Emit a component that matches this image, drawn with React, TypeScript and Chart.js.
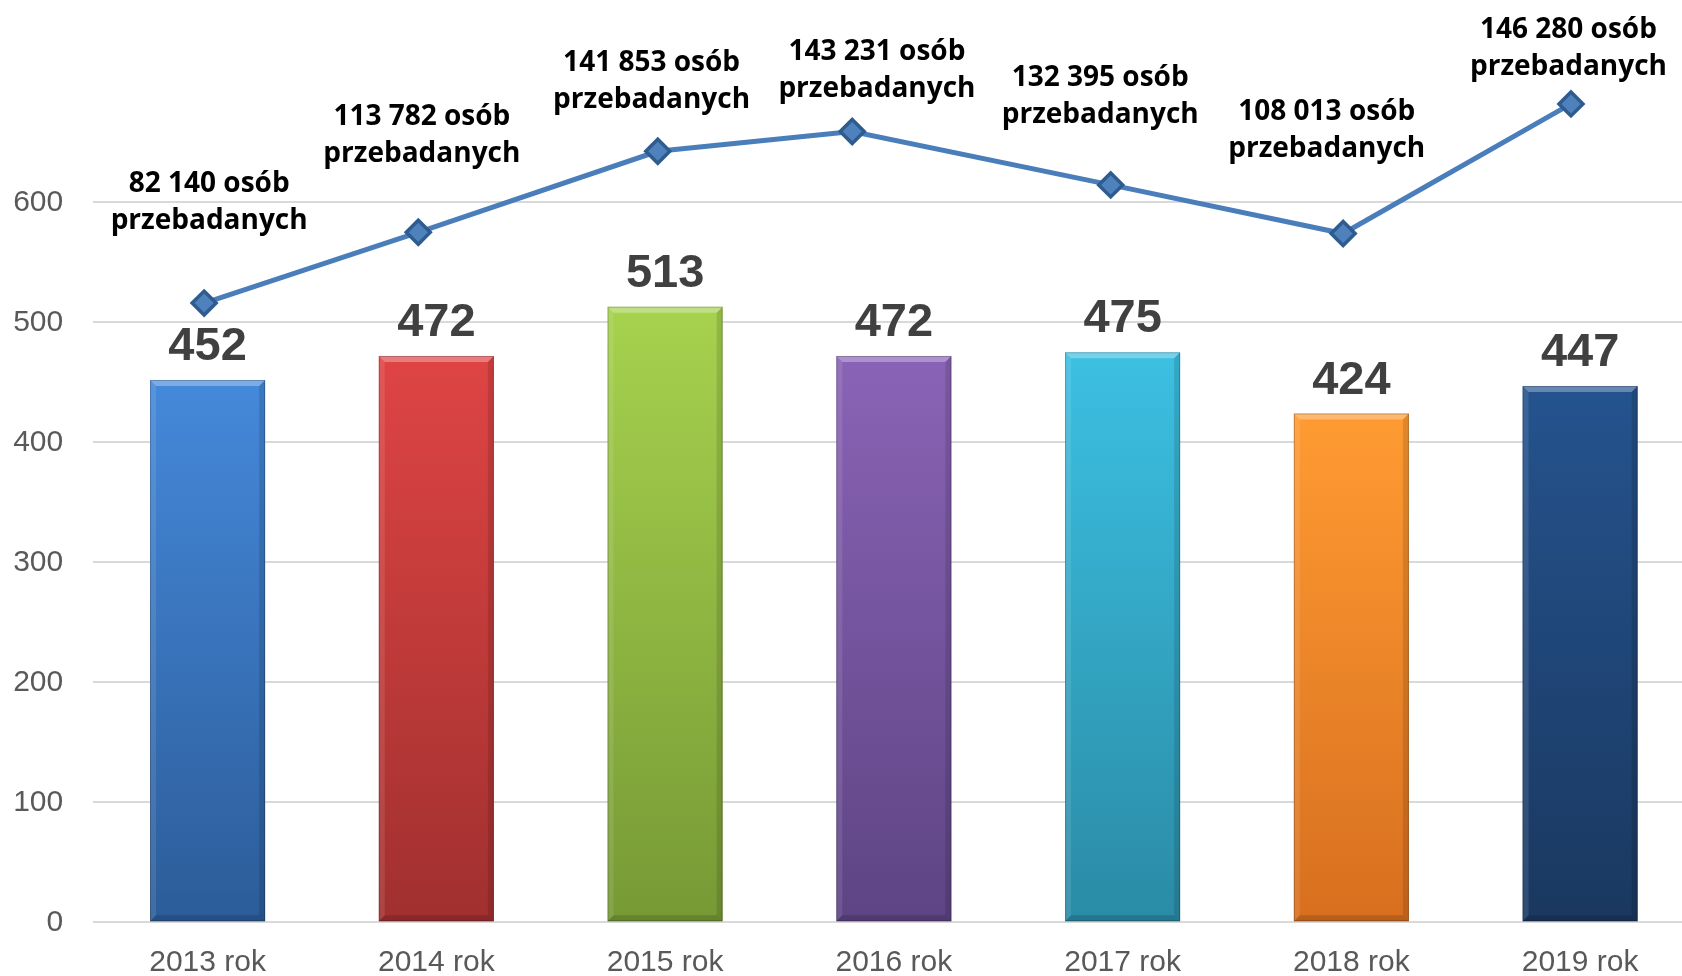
import React, { useEffect, useRef } from 'react';
import { Chart, registerables } from 'chart.js';

Chart.register(...registerables);

// ---- data ----
const categories = ['2013 rok', '2014 rok', '2015 rok', '2016 rok', '2017 rok', '2018 rok', '2019 rok'];
const barValues = [452, 472, 513, 472, 475, 424, 447];
const surveyed = [82140, 113782, 141853, 143231, 132395, 108013, 146280];
// line series (drawn on its own hidden scales, positions)
const lineX = [-0.015, 0.921, 1.968, 2.818, 3.948, 4.964, 5.96];
const lineLevels = [516, 575, 642.5, 659, 614.5, 574, 682];
const yTickMax = 600;
const yAxisMax = 700;
const yStep = 100;

// ---- styles ----
const barTopColors = ['#4589DA', '#DF4444', '#A6D24E', '#8A63B6', '#3CC0E2', '#FF9B32', '#25538E'];
const barBottomColors = ['#2C5C99', '#A0302F', '#779935', '#5D4483', '#2A8BA5', '#D76F1F', '#1A3860'];
const labelOffsets: [number, number][] = [
  [5, -111.6],
  [3.6, -107.6],
  [-6.2, -80.1],
  [24.7, -71.5],
  [-10.5, -98.7],
  [-16.4, -113.4],
  [-2.5, -66],
];

const fmt = (n: number) => String(n).replace(/\B(?=(\d{3})+(?!\d))/g, ' ');

const bevelPlugin = {
  id: 'bevel',
  afterDatasetDraw(chart: any, args: any) {
    if (args.index !== 0) return;
    const ctx = chart.ctx;
    args.meta.data.forEach((bar: any) => {
      const { x, y, base, width } = bar.getProps(['x', 'y', 'base', 'width'], true);
      const l = x - width / 2;
      const r = x + width / 2;
      const b = 6;
      ctx.save();
      ctx.fillStyle = 'rgba(255,255,255,0.30)';
      ctx.beginPath();
      ctx.moveTo(l, y);
      ctx.lineTo(r, y);
      ctx.lineTo(r - b, y + b);
      ctx.lineTo(l + b, y + b);
      ctx.closePath();
      ctx.fill();
      ctx.fillStyle = 'rgba(255,255,255,0.10)';
      ctx.beginPath();
      ctx.moveTo(l, y);
      ctx.lineTo(l + b, y + b);
      ctx.lineTo(l + b, base - b);
      ctx.lineTo(l, base);
      ctx.closePath();
      ctx.fill();
      ctx.fillStyle = 'rgba(0,0,0,0.12)';
      ctx.beginPath();
      ctx.moveTo(r, y);
      ctx.lineTo(r - b, y + b);
      ctx.lineTo(r - b, base - b);
      ctx.lineTo(r, base);
      ctx.closePath();
      ctx.fill();
      ctx.fillStyle = 'rgba(0,0,0,0.15)';
      ctx.beginPath();
      ctx.moveTo(l, base);
      ctx.lineTo(r, base);
      ctx.lineTo(r - b, base - b);
      ctx.lineTo(l + b, base - b);
      ctx.closePath();
      ctx.fill();
      ctx.strokeStyle = 'rgba(0,0,0,0.22)';
      ctx.lineWidth = 1;
      ctx.strokeRect(l + 0.5, y + 0.5, width - 1, base - y - 1);
      ctx.restore();
    });
  },
};

const labelsPlugin = {
  id: 'labels',
  afterDraw(chart: any) {
    const ctx = chart.ctx;
    ctx.save();
    const barMeta = chart.getDatasetMeta(0);
    ctx.font = 'bold 47px "Liberation Sans", Arial, sans-serif';
    ctx.fillStyle = '#404040';
    ctx.textAlign = 'center';
    ctx.textBaseline = 'alphabetic';
    barMeta.data.forEach((bar: any, i: number) => {
      ctx.fillText(String(barValues[i]), bar.x, bar.y - 20);
    });
    const lineMeta = chart.getDatasetMeta(1);
    ctx.font = 'bold 28px "Open Sans", "Noto Sans", sans-serif';
    ctx.fillStyle = '#000000';
    lineMeta.data.forEach((pt: any, i: number) => {
      const [dx, dy] = labelOffsets[i];
      const cx = pt.x + dx;
      const b1 = pt.y + dy;
      ctx.fillText(`${fmt(surveyed[i])} osób`, cx, b1);
      ctx.fillText('przebadanych', cx, b1 + 37);
    });
    ctx.restore();
  },
};

export default function App() {
  const canvasRef = useRef<HTMLCanvasElement | null>(null);

  useEffect(() => {
    document.body.style.margin = '0';
    const canvas = canvasRef.current;
    if (!canvas) return;
    const chart = new Chart(canvas, {
      type: 'bar',
      data: {
        labels: categories,
        datasets: [
          {
            type: 'bar',
            data: barValues,
            order: 1,
            grouped: false,
            categoryPercentage: 1,
            barPercentage: 0.503,
            backgroundColor: (c: any) => {
              if (c.type !== 'data') return barTopColors[0];
              const chartRef = c.chart;
              const i = c.dataIndex;
              if (!chartRef.chartArea) return barTopColors[i];
              const ys = chartRef.scales.y;
              const top = ys.getPixelForValue(barValues[i]);
              const bottom = ys.getPixelForValue(0);
              const g = chartRef.ctx.createLinearGradient(0, top, 0, bottom);
              g.addColorStop(0, barTopColors[i]);
              g.addColorStop(1, barBottomColors[i]);
              return g;
            },
            borderWidth: 0,
          } as any,
          {
            type: 'line',
            data: lineX.map((x, i) => ({ x, y: lineLevels[i] })),
            xAxisID: 'xLine',
            yAxisID: 'yLine',
            order: 0,
            borderColor: '#4A7EBB',
            borderWidth: 5,
            tension: 0,
            pointStyle: 'rectRot',
            pointRadius: 12,
            pointBackgroundColor: '#4F81BD',
            pointBorderColor: '#2F5C8F',
            pointBorderWidth: 3.5,
            fill: false,
          } as any,
        ],
      },
      options: {
        animation: false,
        responsive: false,
        devicePixelRatio: 1,
        layout: { padding: { top: 82.3, right: 0, bottom: 0, left: 0 } },
        plugins: {
          legend: { display: false },
          tooltip: { enabled: false },
        },
        scales: {
          x: {
            type: 'category',
            offset: true,
            grid: { display: false, drawTicks: false },
            border: { display: false },
            ticks: {
              padding: 22,
              color: '#595959',
              font: { family: '"Liberation Sans", Arial, sans-serif', size: 30 },
              maxRotation: 0,
              autoSkip: false,
            },
            afterFit: (s: any) => {
              s.height = 53.7;
            },
          },
          y: {
            type: 'linear',
            min: 0,
            max: yAxisMax,
            ticks: {
              stepSize: yStep,
              padding: 30,
              color: '#595959',
              font: { family: '"Liberation Sans", Arial, sans-serif', size: 30 },
            },
            grid: { color: '#D9D9D9', lineWidth: 2, drawTicks: false },
            border: { display: false },
            afterBuildTicks: (s: any) => {
              s.ticks = s.ticks.filter((t: any) => t.value <= yTickMax);
            },
            afterFit: (s: any) => {
              s.width = 93.2;
            },
          },
          xLine: {
            type: 'linear',
            axis: 'x',
            position: 'bottom',
            display: false,
            offset: false,
            grid: { offset: false },
            min: -0.5,
            max: categories.length - 0.5,
          },
          yLine: {
            type: 'linear',
            axis: 'y',
            display: false,
            min: 0,
            max: yAxisMax,
          },
        },
      } as any,
      plugins: [bevelPlugin, labelsPlugin],
    });
    return () => chart.destroy();
  }, []);

  return (
    <div style={{ position: 'absolute', left: 0, top: 0, width: 1682, height: 976, overflow: 'hidden', background: '#fff' }}>
      <canvas ref={canvasRef} width={1710} height={976} style={{ display: 'block', width: 1710, height: 976 }} />
    </div>
  );
}
